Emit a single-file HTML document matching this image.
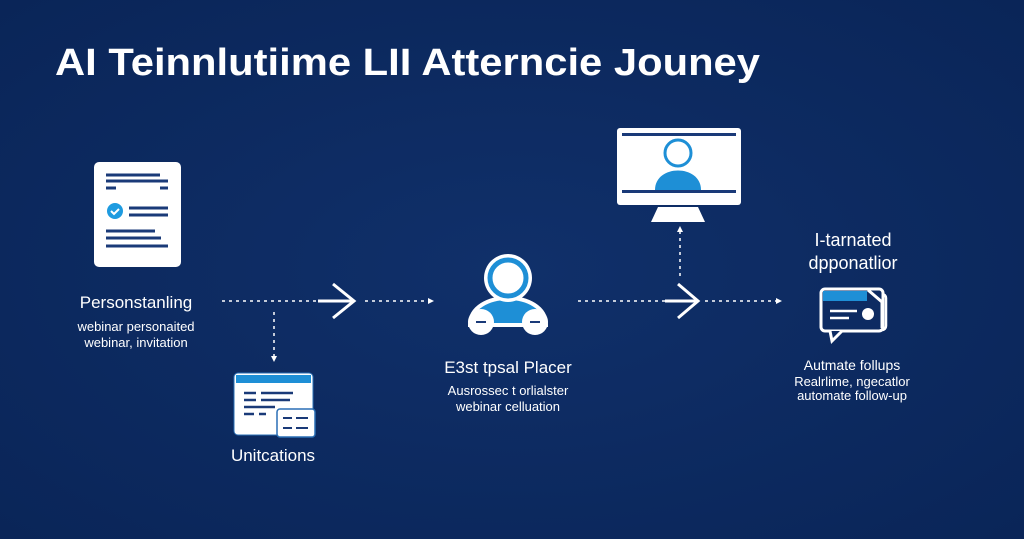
<!DOCTYPE html>
<html><head><meta charset="utf-8"><style>
html,body{margin:0;padding:0;background:#0d2b62;width:1024px;height:539px;overflow:hidden}
svg{display:block}
text{font-family:"Liberation Sans",sans-serif;fill:#fff}
</style></head><body>
<svg width="1024" height="539" viewBox="0 0 1024 539">
<defs>
<radialGradient id="bg" cx="50%" cy="50%" r="70%"><stop offset="0" stop-color="#10306a"/><stop offset="1" stop-color="#0a2558"/></radialGradient>
</defs>
<rect width="1024" height="539" fill="url(#bg)"/>
<text x="55" y="75" font-size="38" font-weight="bold" textLength="705" lengthAdjust="spacingAndGlyphs">AI Teinnlutiime LII Atterncie Jouney</text>

<!-- doc icon -->
<rect x="94" y="162" width="87" height="105" rx="5" fill="#fff"/>
<g stroke="#1a3a78" stroke-width="3">
<line x1="106" y1="175" x2="160" y2="175"/><line x1="106" y1="181" x2="168" y2="181"/>
<line x1="106" y1="188" x2="116" y2="188"/><line x1="160" y1="188" x2="168" y2="188"/>
<line x1="129" y1="208" x2="168" y2="208"/><line x1="129" y1="215" x2="168" y2="215"/>
<line x1="106" y1="231" x2="155" y2="231"/><line x1="106" y1="238" x2="161" y2="238"/><line x1="106" y1="246" x2="168" y2="246"/>
</g>
<circle cx="115" cy="211" r="8" fill="#1e9be0"/>
<path d="M111 211l3 3 5-5" stroke="#fff" stroke-width="2" fill="none"/>
<text x="136" y="308" font-size="17" text-anchor="middle">Personstanling</text>
<text x="136" y="331" font-size="13" text-anchor="middle">webinar personaited</text>
<text x="136" y="347" font-size="13" text-anchor="middle">webinar, invitation</text>

<!-- connectors -->
<g stroke="#fff" stroke-width="1.5" stroke-dasharray="3 4" fill="none">
<line x1="222" y1="301" x2="318" y2="301"/>
<line x1="365" y1="301" x2="428" y2="301"/>
<line x1="274" y1="312" x2="274" y2="356"/>
<line x1="578" y1="301" x2="665" y2="301"/>
<line x1="705" y1="301" x2="776" y2="301"/>
<line x1="680" y1="276" x2="680" y2="232"/>
</g>
<g fill="#fff">
<path d="M428 298l6 3-6 3z"/><path d="M776 298l6 3-6 3z"/>
<path d="M271 356l3 6 3-6z"/><path d="M677 232l3-6 3 6z"/>
</g>
<g stroke="#fff" stroke-width="3" fill="none">
<line x1="318" y1="301" x2="354" y2="301"/><path d="M333 284l21 17-21 17"/>
<line x1="665" y1="301" x2="698" y2="301"/><path d="M678 284l20 17-20 17"/>
</g>

<!-- window icon -->
<rect x="234" y="373" width="79" height="62" rx="4" fill="#fff" stroke="#2a6fb5" stroke-width="1"/>
<rect x="236" y="375" width="75" height="8" fill="#1e8fd6"/>
<g stroke="#1a3a78" stroke-width="2.5">
<line x1="244" y1="393" x2="256" y2="393"/><line x1="261" y1="393" x2="293" y2="393"/>
<line x1="244" y1="400" x2="256" y2="400"/><line x1="261" y1="400" x2="290" y2="400"/>
<line x1="244" y1="407" x2="275" y2="407"/><line x1="244" y1="414" x2="254" y2="414"/><line x1="259" y1="414" x2="266" y2="414"/>
</g>
<rect x="277" y="409" width="38" height="28" rx="3" fill="#fff" stroke="#2a6fb5" stroke-width="1.5"/>
<g stroke="#1a3a78" stroke-width="2">
<line x1="283" y1="418" x2="292" y2="418"/><line x1="296" y1="418" x2="308" y2="418"/>
<line x1="283" y1="428" x2="292" y2="428"/><line x1="296" y1="428" x2="308" y2="428"/>
</g>
<text x="273" y="461" font-size="17" text-anchor="middle">Unitcations</text>

<!-- person icon -->
<path d="M470 325c0-36 76-36 76 0z" fill="#1e8fd6" stroke="#fff" stroke-width="4"/>
<circle cx="508" cy="278" r="24" fill="#fff"/>
<circle cx="508" cy="278" r="18" fill="#fff" stroke="#1e8fd6" stroke-width="5"/>
<circle cx="481" cy="322" r="13" fill="#fff"/><circle cx="535" cy="322" r="13" fill="#fff"/>
<g stroke="#1a3a78" stroke-width="2"><line x1="476" y1="322" x2="486" y2="322"/><line x1="530" y1="322" x2="540" y2="322"/></g>
<text x="508" y="373" font-size="17" text-anchor="middle">E3st tpsal Placer</text>
<text x="508" y="395" font-size="13" text-anchor="middle">Ausrossec t orlialster</text>
<text x="508" y="411" font-size="13" text-anchor="middle">webinar celluation</text>

<!-- monitor -->
<rect x="617" y="128" width="124" height="77" rx="3" fill="#fff"/>
<rect x="622" y="133" width="114" height="3" fill="#1a3a78"/>
<rect x="622" y="190" width="114" height="3" fill="#1a3a78"/>
<circle cx="678" cy="153" r="13" fill="#fff" stroke="#1e8fd6" stroke-width="3"/>
<path d="M655 190c0-26 46-26 46 0z" fill="#1e8fd6"/>
<path d="M658 207h40l7 15h-54z" fill="#fff"/>

<text x="853" y="246" font-size="18" text-anchor="middle">I-tarnated</text>
<text x="853" y="269" font-size="18" text-anchor="middle">dpponatlior</text>

<!-- chat icon -->
<rect x="828" y="294" width="58" height="36" rx="4" fill="none" stroke="#fff" stroke-width="2.5"/>
<rect x="821" y="289" width="62" height="42" rx="4" fill="#0d2b62" stroke="#fff" stroke-width="3"/>
<rect x="823" y="291" width="44" height="10" fill="#1e8fd6"/>
<path d="M868 290l14 12v26" fill="none" stroke="#fff" stroke-width="3"/>
<path d="M830 331l2 10 10-10" fill="#0d2b62" stroke="#fff" stroke-width="3"/>
<g stroke="#fff" stroke-width="2.5"><line x1="830" y1="311" x2="857" y2="311"/><line x1="830" y1="318" x2="849" y2="318"/></g>
<circle cx="868" cy="314" r="6" fill="#fff"/>
<text x="852" y="370" font-size="14" text-anchor="middle">Autmate follups</text>
<text x="852" y="386" font-size="13" text-anchor="middle">Realrlime, ngecatlor</text>
<text x="852" y="400" font-size="13" text-anchor="middle">automate follow-up</text>
</svg>
</body></html>
